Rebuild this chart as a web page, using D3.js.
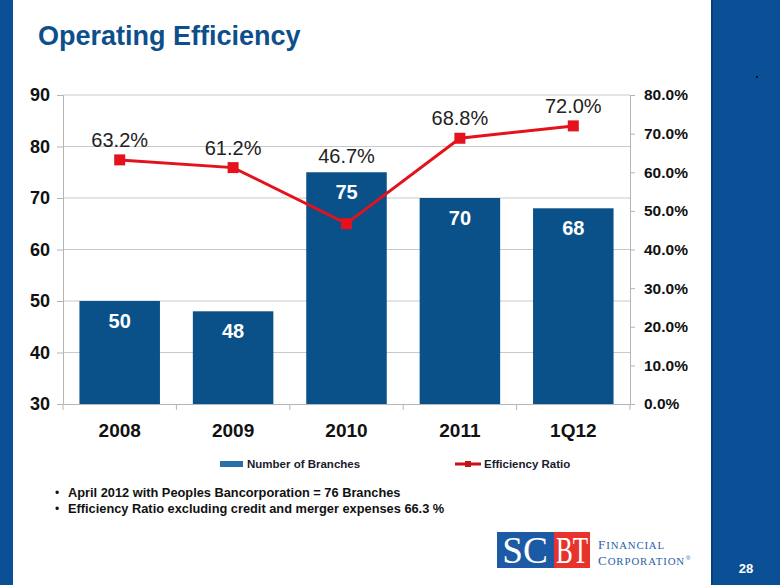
<!DOCTYPE html>
<html><head><meta charset="utf-8">
<script src="https://cdn.jsdelivr.net/npm/d3@7"></script>
<style>
html,body{margin:0;padding:0;background:#fff;}
svg{display:block;font-family:"Liberation Sans",Arial,sans-serif;}
</style></head>
<body>
<svg id="c" width="780" height="585"></svg>
<script>
const categories = ["2008","2009","2010","2011","1Q12"];
const branches = [50, 48, 75, 70, 68];
const efficiency = [63.2, 61.2, 46.7, 68.8, 72.0];
const leftTicks = [30,40,50,60,70,80,90];
const rightTicks = [0,10,20,30,40,50,60,70,80];
const bullets = ["April 2012 with Peoples Bancorporation = 76 Branches",
                 "Efficiency Ratio excluding credit and merger expenses 66.3 %"];

const svg = d3.select("#c");
const blue = "#0b5189", red = "#e3121c", dark = "#0d4f8b";

// slide frame
svg.append("rect").attr("x",0).attr("y",0).attr("width",13).attr("height",585).attr("fill","#0b4f96");
svg.append("rect").attr("x",711).attr("y",0).attr("width",69).attr("height",585).attr("fill","#0b4f96");
svg.append("rect").attr("x",711).attr("y",0).attr("width",2).attr("height",585).attr("fill","#083f7a");
svg.append("rect").attr("x",756).attr("y",76).attr("width",2).attr("height",2).attr("fill","#111");
svg.append("text").attr("x",746).attr("y",573).attr("text-anchor","middle").attr("fill","#fff")
  .attr("font-weight","bold").attr("font-size",13).text("28");

// title
svg.append("text").attr("x",38).attr("y",45).attr("fill",dark).attr("font-weight","bold")
  .attr("font-size",27).text("Operating Efficiency");

const L=63, R=630, T=95, B=404;
const x = d3.scaleBand().domain(categories).range([L,R]).paddingInner(0.29).paddingOuter(0.145);
const yL = d3.scaleLinear().domain([30,90]).range([B,T]);
const yR = d3.scaleLinear().domain([0,80]).range([B,T]);

// gridlines
svg.append("g").selectAll("line").data(leftTicks.slice(1)).join("line")
  .attr("x1",L).attr("x2",R).attr("y1",d=>yL(d)).attr("y2",d=>yL(d))
  .attr("stroke","#c9c9c9").attr("stroke-width",1);

// left axis
const gl = svg.append("g").attr("transform",`translate(${L},0)`)
  .call(d3.axisLeft(yL).tickValues(leftTicks).tickSize(6).tickPadding(7));
gl.select(".domain").attr("stroke","#b5b5b5");
gl.selectAll(".tick line").attr("stroke","#b5b5b5");
gl.selectAll("text").attr("font-size",18).attr("font-weight","bold").attr("fill","#111")
  .attr("font-family","Liberation Sans, Arial, sans-serif");

// right axis
const gr = svg.append("g").attr("transform",`translate(${R},0)`)
  .call(d3.axisRight(yR).tickValues(rightTicks).tickSize(5).tickPadding(9).tickFormat(d=>d.toFixed(1)+"%"));
gr.select(".domain").attr("stroke","#b5b5b5");
gr.selectAll(".tick line").attr("stroke","#b5b5b5");
gr.selectAll("text").attr("font-size",15.5).attr("font-weight","bold").attr("fill","#111")
  .attr("font-family","Liberation Sans, Arial, sans-serif");

// bottom axis
const gb = svg.append("g").attr("transform",`translate(0,${B})`)
  .call(d3.axisBottom(x).tickSize(0).tickPadding(0));
gb.select(".domain").attr("stroke","#b5b5b5");
gb.selectAll(".tick text").attr("y",33).attr("dy",0).attr("font-size",19).attr("font-weight","bold")
  .attr("fill","#111").attr("font-family","Liberation Sans, Arial, sans-serif");
// category separator ticks
svg.append("g").selectAll("line").data(d3.range(categories.length+1)).join("line")
  .attr("x1",i=>L+i*(R-L)/categories.length).attr("x2",i=>L+i*(R-L)/categories.length)
  .attr("y1",B).attr("y2",B+6).attr("stroke","#b5b5b5");

// bars
svg.append("g").selectAll("rect").data(branches).join("rect")
  .attr("x",(d,i)=>x(categories[i])).attr("width",x.bandwidth())
  .attr("y",d=>yL(d)).attr("height",d=>B-yL(d)).attr("fill",blue);
svg.append("g").selectAll("text").data(branches).join("text")
  .attr("x",(d,i)=>x(categories[i])+x.bandwidth()/2).attr("y",d=>yL(d)+27)
  .attr("text-anchor","middle").attr("fill","#fff").attr("font-weight","bold").attr("font-size",20)
  .text(d=>d);

// line
const cx = i => x(categories[i])+x.bandwidth()/2;
svg.append("path").datum(efficiency)
  .attr("d", d3.line().x((d,i)=>cx(i)).y(d=>yR(d)))
  .attr("fill","none").attr("stroke",red).attr("stroke-width",3);
svg.append("g").selectAll("rect").data(efficiency).join("rect")
  .attr("x",(d,i)=>cx(i)-5.5).attr("y",d=>yR(d)-5.5).attr("width",11).attr("height",11).attr("fill",red);
svg.append("g").selectAll("text").data(efficiency).join("text")
  .attr("x",(d,i)=>cx(i)).attr("y",(d,i)=>Math.min(yR(d)-13, yL(branches[i])-9))
  .attr("text-anchor","middle").attr("fill","#222").attr("font-size",20)
  .text(d=>d.toFixed(1)+"%");

// legend
const lg = svg.append("g");
lg.append("rect").attr("x",220).attr("y",461).attr("width",23).attr("height",6).attr("fill","#2a6fa8");
lg.append("text").attr("x",247).attr("y",468).attr("font-size",11.5).attr("font-weight","bold")
  .attr("fill","#1a1a2e").text("Number of Branches");
lg.append("line").attr("x1",455).attr("x2",481).attr("y1",464).attr("y2",464).attr("stroke","#c8101a").attr("stroke-width",3);
lg.append("rect").attr("x",465).attr("y",461).attr("width",6).attr("height",6).attr("fill","#c8101a");
lg.append("text").attr("x",484).attr("y",468).attr("font-size",11.5).attr("font-weight","bold")
  .attr("fill","#1a1a2e").text("Efficiency Ratio");

// bullets
const bg = svg.append("g");
bullets.forEach((t,i)=>{
  bg.append("text").attr("x",55).attr("y",497+i*16).attr("font-size",12).attr("fill","#111").text("•");
  bg.append("text").attr("x",68).attr("y",497+i*16).attr("font-size",12.8).attr("font-weight","bold")
    .attr("fill","#111").text(t);
});

// logo
const lo = svg.append("g");
lo.append("rect").attr("x",497).attr("y",532).attr("width",57).attr("height",36).attr("fill","#1d5aa5");
lo.append("rect").attr("x",554).attr("y",532).attr("width",36).attr("height",36).attr("fill","#e8322c");
lo.append("text").attr("transform","translate(525,563) scale(0.98,1)").attr("text-anchor","middle").attr("fill","#fff")
  .attr("font-family","Liberation Serif, serif").attr("font-size",38).text("SC");
lo.append("text").attr("transform","translate(572,563) scale(0.66,1)").attr("text-anchor","middle").attr("fill","#fff")
  .attr("font-family","Liberation Serif, serif").attr("font-size",38).text("BT");
// wordmark: big initial + small caps, as separate texts
function word(initial, rest, y, ls){
  const a = lo.append("text").attr("x",598).attr("y",y).attr("fill","#2a5fa8")
    .attr("font-family","Liberation Serif, serif").attr("font-size",13).text(initial);
  const w = a.node().getComputedTextLength();
  const b = lo.append("text").attr("x",598+w+1).attr("y",y).attr("fill","#2a5fa8")
    .attr("font-family","Liberation Serif, serif").attr("font-size",10.8).attr("letter-spacing",ls).text(rest);
  return 598+w+1+b.node().getComputedTextLength();
}
word("F","INANCIAL",549,0.8);
const endX = word("C","ORPORATION",565,0.9);
lo.append("text").attr("x",endX+1).attr("y",560).attr("fill","#2a5fa8").attr("font-size",6).text("®");
</script>
</body></html>
